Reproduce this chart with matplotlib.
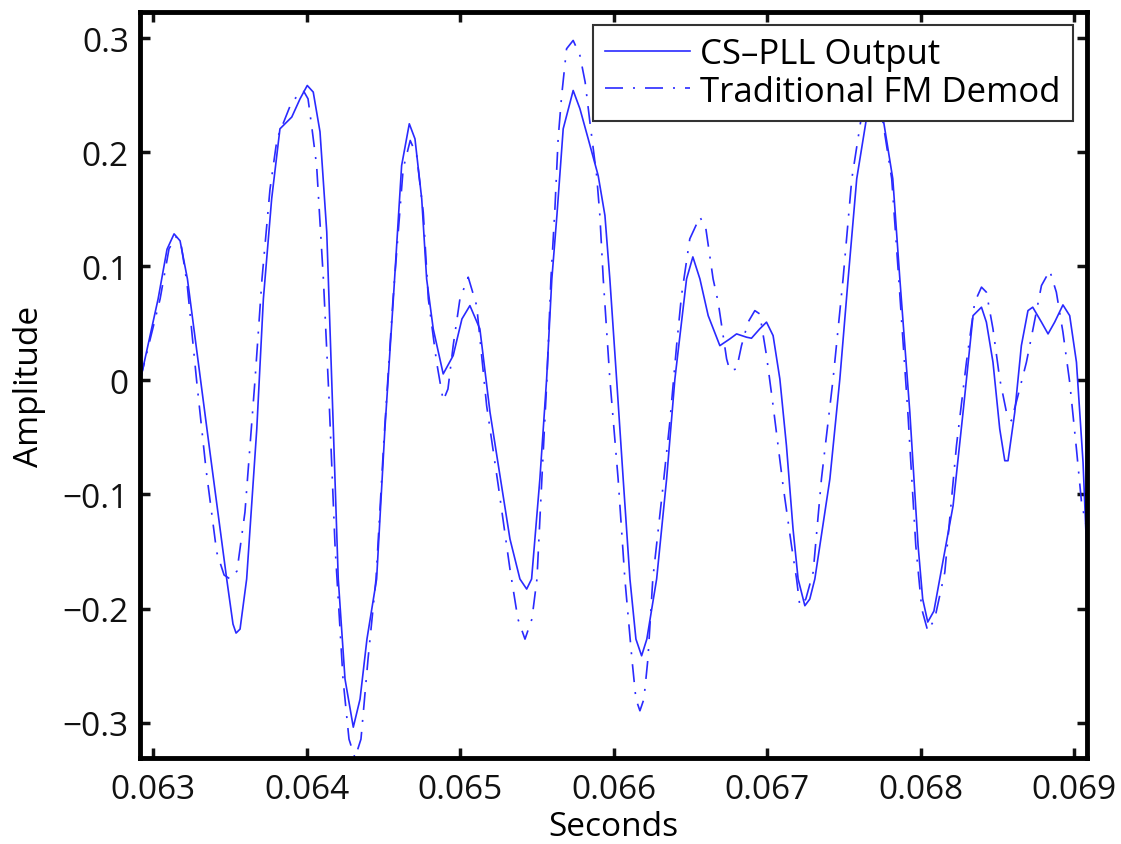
import matplotlib
matplotlib.use("Agg")
import matplotlib.pyplot as plt
import numpy as np

# CS-PLL output (solid)
t_cs = [0.062913, 0.063031, 0.063089, 0.063135, 0.063174, 0.063222, 0.063369,
        0.063478, 0.063519, 0.063539, 0.063565, 0.063608, 0.063674, 0.063717,
        0.063771, 0.063825, 0.063902, 0.063956, 0.064003, 0.064042, 0.064086,
        0.064130, 0.064173, 0.064205, 0.064249, 0.064303, 0.064347, 0.064392,
        0.064455, 0.064509, 0.064564, 0.064618, 0.064668, 0.064705, 0.064749,
        0.064781, 0.064824, 0.064889, 0.064954, 0.065011, 0.065063, 0.065128,
        0.065194, 0.065259, 0.065324, 0.065389, 0.065433, 0.065465, 0.065519,
        0.065563, 0.065597, 0.065630, 0.065671, 0.065736, 0.065780, 0.065834,
        0.065899, 0.065943, 0.065975, 0.066019, 0.066062, 0.066106, 0.066145,
        0.066182, 0.066216, 0.066280, 0.066345, 0.066399, 0.066475, 0.066516,
        0.066562, 0.066616, 0.066692, 0.066757, 0.066801, 0.066866, 0.066898,
        0.066952, 0.066996, 0.067039, 0.067083, 0.067126, 0.067169, 0.067202,
        0.067246, 0.067278, 0.067311, 0.067409, 0.067474, 0.067528, 0.067584,
        0.067702, 0.067819, 0.067865, 0.067930, 0.067984, 0.068014, 0.068047,
        0.068087, 0.068125, 0.068212, 0.068277, 0.068342, 0.068397, 0.068429,
        0.068472, 0.068516, 0.068549, 0.068570, 0.068614, 0.068657, 0.068700,
        0.068731, 0.068788, 0.068831, 0.068874, 0.068928, 0.068972, 0.069016,
        0.069059, 0.069085]
amp_cs = [-0.001, 0.0715, 0.115, 0.1285, 0.1224, 0.089, -0.063,
          -0.1741, -0.2136, -0.2215, -0.218, -0.1741, -0.0425, 0.0715,
          0.1592, 0.2206, 0.2309, 0.2469, 0.2586, 0.2528, 0.218,
          0.1303, -0.0425, -0.1741, -0.2618, -0.304, -0.2794, -0.2268,
          -0.1741, -0.0425, 0.0715, 0.1884, 0.225, 0.2118, 0.1592,
          0.089, 0.0452, 0.0057, 0.0218, 0.0539, 0.0656, 0.0452,
          -0.0279, -0.0835, -0.139, -0.1741, -0.1829, -0.1741, -0.0864,
          0.0013, 0.089, 0.1446, 0.2206, 0.2542, 0.2382, 0.2118,
          0.1796, 0.1446, 0.089, 0.0013, -0.0864, -0.1741, -0.2268,
          -0.2414, -0.2268, -0.1741, -0.0864, 0.0013, 0.089, 0.1083,
          0.089, 0.0568, 0.0305, 0.0364, 0.0408, 0.0379, 0.037,
          0.0452, 0.0511, 0.0393, 0.0013, -0.0572, -0.1303, -0.1741,
          -0.1975, -0.1917, -0.1741, -0.0864, 0.0013, 0.089, 0.1768,
          0.275, 0.1768, 0.089, -0.0276, -0.1449, -0.1917, -0.2118,
          -0.2022, -0.1741, -0.1098, -0.0279, 0.0568, 0.0642, 0.0511,
          0.016, -0.0425, -0.0704, -0.0704, -0.0279, 0.0305, 0.0612,
          0.0642, 0.0511, 0.0408, 0.0511, 0.0662, 0.0568, 0.016,
          -0.0718, -0.1566]

# Traditional FM demodulator (dash-dot)
t_fm = [0.062913, 0.063044, 0.063102, 0.063148, 0.063180, 0.063220, 0.063283,
        0.063343, 0.063413, 0.063461, 0.063500, 0.063545, 0.063597, 0.063663,
        0.063708, 0.063760, 0.063806, 0.063902, 0.063977, 0.064008, 0.064034,
        0.064064, 0.064108, 0.064145, 0.064184, 0.064236, 0.064275, 0.064314,
        0.064353, 0.064399, 0.064451, 0.064503, 0.064562, 0.064628, 0.064674,
        0.064716, 0.064759, 0.064792, 0.064846, 0.064889, 0.064920, 0.064954,
        0.064998, 0.065052, 0.065107, 0.065172, 0.065248, 0.065324, 0.065376,
        0.065422, 0.065467, 0.065500, 0.065532, 0.065565, 0.065591, 0.065617,
        0.065638, 0.065661, 0.065693, 0.065736, 0.065780, 0.065814, 0.065845,
        0.065889, 0.065910, 0.065932, 0.065975, 0.066029, 0.066073, 0.066119,
        0.066145, 0.066171, 0.066197, 0.066223, 0.066255, 0.066322, 0.066366,
        0.066410, 0.066442, 0.066496, 0.066562, 0.066601, 0.066648, 0.066681,
        0.066736, 0.066757, 0.066801, 0.066833, 0.066876, 0.066920, 0.066952,
        0.066996, 0.067039, 0.067104, 0.067159, 0.067192, 0.067213, 0.067252,
        0.067300, 0.067354, 0.067430, 0.067495, 0.067552, 0.067682, 0.067812,
        0.067858, 0.067917, 0.067969, 0.068008, 0.068047, 0.068092, 0.068158,
        0.068234, 0.068299, 0.068353, 0.068397, 0.068429, 0.068472, 0.068516,
        0.068560, 0.068592, 0.068635, 0.068690, 0.068733, 0.068788, 0.068842,
        0.068885, 0.068928, 0.068972, 0.069016, 0.069049, 0.069085]
amp_fm = [0.0, 0.0715, 0.1154, 0.1259, 0.1197, 0.0846, -0.0016,
          -0.0776, -0.1507, -0.1706, -0.1741, -0.1671, -0.1154, 0.0013,
          0.089, 0.1675, 0.2118, 0.2443, 0.2542, 0.2469, 0.2206,
          0.1884, 0.089, -0.0162, -0.1449, -0.2618, -0.3145, -0.331,
          -0.3145, -0.2443, -0.1741, -0.0513, 0.0715, 0.1855, 0.2104,
          0.1972, 0.1475, 0.0715, 0.016, -0.0177, -0.0075, 0.0305,
          0.0715, 0.0905, 0.0656, -0.0221, -0.0923, -0.1654, -0.2092,
          -0.2268, -0.2092, -0.1741, -0.0864, 0.0013, 0.089, 0.1504,
          0.2118, 0.2498, 0.2908, 0.2981, 0.2849, 0.2616, 0.2265,
          0.1796, 0.1446, 0.089, 0.0013, -0.0864, -0.1741, -0.2443,
          -0.2794, -0.2896, -0.2794, -0.2443, -0.1741, -0.0923, -0.0364,
          0.0305, 0.0744, 0.1241, 0.1434, 0.1329, 0.089, 0.0686,
          0.0189, 0.0086, 0.0101, 0.0305, 0.0511, 0.0612, 0.0583,
          0.0218, -0.0221, -0.0923, -0.1449, -0.1741, -0.1975, -0.1917,
          -0.1682, -0.0864, 0.0013, 0.089, 0.1768, 0.290, 0.1768,
          0.089, -0.0276, -0.1449, -0.2004, -0.2197, -0.2092, -0.1682,
          -0.0572, 0.016, 0.0686, 0.0818, 0.0774, 0.0452, 0.0013,
          -0.0279, -0.0353, -0.0133, 0.016, 0.0452, 0.0832, 0.0963,
          0.0774, 0.0423, -0.0016, -0.0601, -0.1068, -0.1311]

labels = ["CS\u2013PLL Output", "Traditional FM Demod"]
xticks = [0.063, 0.064, 0.065, 0.066, 0.067, 0.068, 0.069]
yticks = [-0.3, -0.2, -0.1, 0, 0.1, 0.2, 0.3]
ylim = (-0.331, 0.323)

plt.rcParams["font.family"] = ["Open Sans", "DejaVu Sans"]
plt.rcParams["font.size"] = 24

fig = plt.figure(figsize=(11.21, 8.45), dpi=100)
ax = fig.add_axes([0.1249, 0.1018, 0.8448, 0.8828])

blue = "#2a2aff"
ax.plot(t_cs, amp_cs, color=blue, linewidth=1.2, label=labels[0])
ax.plot(t_fm, amp_fm, color=blue, linewidth=1.2,
        linestyle=(0, (10.8, 6, 1.2, 6)), label=labels[1])

ax.set_xlim(min(t_cs), max(t_cs))
ax.set_ylim(*ylim)
ax.set_xticks(xticks)
ax.set_xticklabels(["%g" % v for v in xticks])
ax.set_yticks(yticks)
ax.set_yticklabels([("\u2212%g" % -v) if v < 0 else "%g" % v for v in yticks])

ax.tick_params(direction="in", length=7, width=2.5, top=True, right=True,
               labelsize=24, colors="#111111")
ax.tick_params(axis="x", pad=11)
ax.tick_params(axis="y", pad=8)
for s in ax.spines.values():
    s.set_linewidth(3.5)
    s.set_color("black")

ax.set_xlabel("Seconds", fontsize=24, labelpad=3)
ax.set_ylabel("Amplitude", fontsize=24, labelpad=12)

leg = ax.legend(loc="upper right", bbox_to_anchor=(0.9852, 0.9826),
                borderaxespad=0, fancybox=False, framealpha=1,
                edgecolor="#333333", fontsize=25, handlelength=2.45,
                borderpad=0.35, labelspacing=0.1, handletextpad=0.3)
leg.get_frame().set_linewidth(1.5)

fig.savefig("out.png", dpi=100)
